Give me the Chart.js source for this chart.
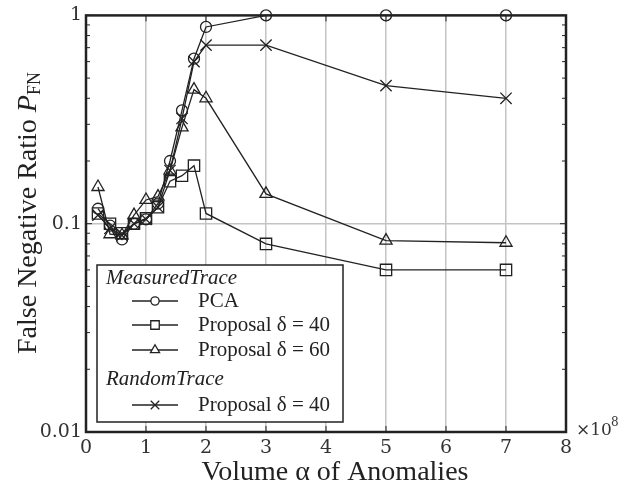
<!DOCTYPE html>
<html>
<head>
<meta charset="utf-8">
<script src="https://cdn.jsdelivr.net/npm/chart.js@4.4.0/dist/chart.umd.min.js"></script>
<style>
  html, body { margin: 0; padding: 0; background: #fff; }
</style>
</head>
<body>
<canvas id="fn-canvas" width="624" height="495"></canvas>
<script>
// volume of anomalies (x 10^8)
const volumes = [0.2, 0.4, 0.6, 0.8, 1.0, 1.2, 1.4, 1.6, 1.8, 2, 3, 5, 7];

// false negative ratio per method
const pcaMeasured    = [0.118, 0.098, 0.084, 0.100, 0.105, 0.125, 0.20, 0.35, 0.62, 0.88, 1.0, 1.0, 1.0];
const prop40Measured = [0.112, 0.100, 0.090, 0.100, 0.106, 0.120, 0.16, 0.17, 0.19, 0.112, 0.080, 0.060, 0.060];
const prop60Measured = [0.150, 0.089, 0.088, 0.110, 0.130, 0.135, 0.18, 0.29, 0.44, 0.40, 0.139, 0.083, 0.081];
const prop40Random   = [0.110, 0.095, 0.088, 0.100, 0.105, 0.120, 0.18, 0.32, 0.60, 0.72, 0.72, 0.46, 0.40];

const xTickValues = [0, 1, 2, 3, 4, 5, 6, 7, 8];
const yTickValues = [0.01, 0.1, 1];

const serif = "'Liberation Serif', 'Times New Roman', serif";
const tickFont = "'DejaVu Serif', serif";

function toPoints(values) {
  return volumes.map((v, i) => ({ x: v, y: values[i] }));
}

function isDecade(value) {
  let l = Math.log10(value);
  return Math.abs(l - Math.round(l)) < 1e-6;
}

let seriesStyle = [
  { label: "PCA", data: pcaMeasured, pointStyle: "circle", radius: 5.5 },
  { label: "Proposal δ = 40", data: prop40Measured, pointStyle: "rect", radius: 8 },
  { label: "Proposal δ = 60", data: prop60Measured, pointStyle: "triangle", radius: 7 },
  { label: "Proposal δ = 40", data: prop40Random, pointStyle: "crossRot", radius: 8 },
];

let datasets = seriesStyle.map(s => ({
  label: s.label,
  data: toPoints(s.data),
  borderColor: "#222",
  borderWidth: 1.3,
  pointStyle: s.pointStyle,
  pointRadius: s.radius,
  pointBorderColor: "#222",
  pointBorderWidth: 1.3,
  pointBackgroundColor: "rgba(0,0,0,0)",
  fill: false,
  tension: 0,
  clip: false,
}));

// frame, inward ticks, titles and the grouped legend
const decorPlugin = {
  id: "decor",
  beforeDatasetsDraw(chart) {
    let ctx = chart.ctx;
    let a = chart.chartArea;
    let xs = chart.scales.x;
    let ys = chart.scales.y;
    ctx.save();
    ctx.strokeStyle = "#222";
    ctx.lineWidth = 1;
    // y minor/major ticks, left and right
    for (let d = 0.01; d < 1.001; d *= 10) {
      for (let m = 1; m <= 9; m++) {
        let v = d * m;
        if (v > 1.0001) break;
        let py = ys.getPixelForValue(v);
        let len = m === 1 ? 6 : 4;
        ctx.beginPath();
        ctx.moveTo(a.left, py); ctx.lineTo(a.left + len, py);
        ctx.moveTo(a.right, py); ctx.lineTo(a.right - len, py);
        ctx.stroke();
      }
    }
    // x ticks, top and bottom
    xTickValues.forEach(v => {
      let px = xs.getPixelForValue(v);
      ctx.beginPath();
      ctx.moveTo(px, a.bottom); ctx.lineTo(px, a.bottom - 6);
      ctx.moveTo(px, a.top); ctx.lineTo(px, a.top + 6);
      ctx.stroke();
    });
    // frame
    ctx.lineWidth = 2.5;
    ctx.strokeRect(a.left, a.top, a.right - a.left, a.bottom - a.top);
    ctx.restore();
  },
  afterDraw(chart) {
    let ctx = chart.ctx;
    let a = chart.chartArea;
    ctx.save();
    ctx.fillStyle = "#222";

    // x title
    ctx.font = "28px " + serif;
    ctx.textAlign = "center";
    ctx.textBaseline = "middle";
    ctx.fillText("Volume α of Anomalies", (a.left + a.right) / 2 + 9, 473);

    // x multiplier
    ctx.font = "17px " + tickFont;
    ctx.textAlign = "left";
    ctx.fillStyle = "#333";
    ctx.fillText("×10", 576, 431);
    ctx.font = "12px " + tickFont;
    ctx.fillText("8", 611, 423);

    // y title with subscript
    ctx.save();
    ctx.translate(29, 213);
    ctx.rotate(-Math.PI / 2);
    ctx.fillStyle = "#222";
    ctx.textBaseline = "middle";
    let main = "False Negative Ratio ";
    ctx.font = "28px " + serif;
    let w1 = ctx.measureText(main).width;
    ctx.font = "italic 28px " + serif;
    let w2 = ctx.measureText("P").width;
    ctx.font = "18px " + serif;
    let w3 = ctx.measureText("FN").width;
    let x0 = -(w1 + w2 + w3) / 2;
    ctx.textAlign = "left";
    ctx.font = "28px " + serif;
    ctx.fillText(main, x0, 0);
    ctx.font = "italic 28px " + serif;
    ctx.fillText("P", x0 + w1, 0);
    ctx.font = "18px " + serif;
    ctx.fillText("FN", x0 + w1 + w2, 6);
    ctx.restore();

    // legend box
    ctx.fillStyle = "#fff";
    ctx.fillRect(97, 265, 246, 157);
    ctx.strokeStyle = "#222";
    ctx.lineWidth = 1.5;
    ctx.strokeRect(97, 265, 246, 157);

    ctx.fillStyle = "#222";
    ctx.textAlign = "left";
    ctx.textBaseline = "middle";
    ctx.font = "italic 21px " + serif;
    ctx.fillText("MeasuredTrace", 106, 278);
    ctx.fillText("RandomTrace", 106, 379);

    let rows = [
      { ds: 0, y: 301 },
      { ds: 1, y: 325 },
      { ds: 2, y: 350 },
      { ds: 3, y: 405 },
    ];
    rows.forEach(r => {
      let s = seriesStyle[r.ds];
      ctx.strokeStyle = "#222";
      ctx.lineWidth = 1.3;
      ctx.beginPath();
      ctx.moveTo(132, r.y); ctx.lineTo(178, r.y);
      ctx.stroke();
      ctx.fillStyle = "#fff";
      Chart.helpers.drawPoint(ctx, {
        pointStyle: s.pointStyle,
        radius: s.radius * 0.75,
        rotation: 0,
        borderWidth: 1.3,
      }, 155, r.y);
      ctx.fillStyle = "#222";
      ctx.font = "21px " + serif;
      ctx.fillText(s.label, 198, r.y);
    });
    ctx.restore();
  },
};

let ctx = document.getElementById("fn-canvas").getContext("2d");

window.myChart = new Chart(ctx, {
  type: "line",
  data: { datasets: datasets },
  options: {
    responsive: false,
    animation: false,
    devicePixelRatio: 1,
    layout: { padding: { left: 0, top: 14, right: 58, bottom: 0 } },
    plugins: {
      legend: { display: false },
      tooltip: { enabled: false },
    },
    scales: {
      x: {
        type: "linear",
        min: 0,
        max: 8,
        afterFit: s => { s.height = 63; },
        afterBuildTicks: s => { s.ticks = xTickValues.map(v => ({ value: v })); },
        ticks: {
          color: "#333",
          font: { family: tickFont, size: 19 },
          padding: 5,
          maxRotation: 0,
        },
        grid: {
          drawTicks: false,
          lineWidth: 1.5,
          color: c => (c.tick && c.tick.value > 0 && c.tick.value < 8) ? "#c4c4c4" : "rgba(0,0,0,0)",
        },
        border: { display: false },
      },
      y: {
        type: "logarithmic",
        min: 0.01,
        max: 1,
        afterFit: s => { s.width = 86; },
        afterBuildTicks: s => { s.ticks = yTickValues.map(v => ({ value: v })); },
        ticks: {
          color: "#333",
          font: { family: tickFont, size: 19 },
          padding: 4,
          autoSkip: false,
          callback: v => isDecade(v) ? (v >= 1 ? "1" : v.toFixed(-Math.round(Math.log10(v)))) : "",
        },
        grid: {
          drawTicks: false,
          lineWidth: 1.5,
          color: c => (c.tick && Math.abs(c.tick.value - 0.1) < 1e-9) ? "#c4c4c4" : "rgba(0,0,0,0)",
        },
        border: { display: false },
      },
    },
  },
  plugins: [decorPlugin],
});
</script>
</body>
</html>
